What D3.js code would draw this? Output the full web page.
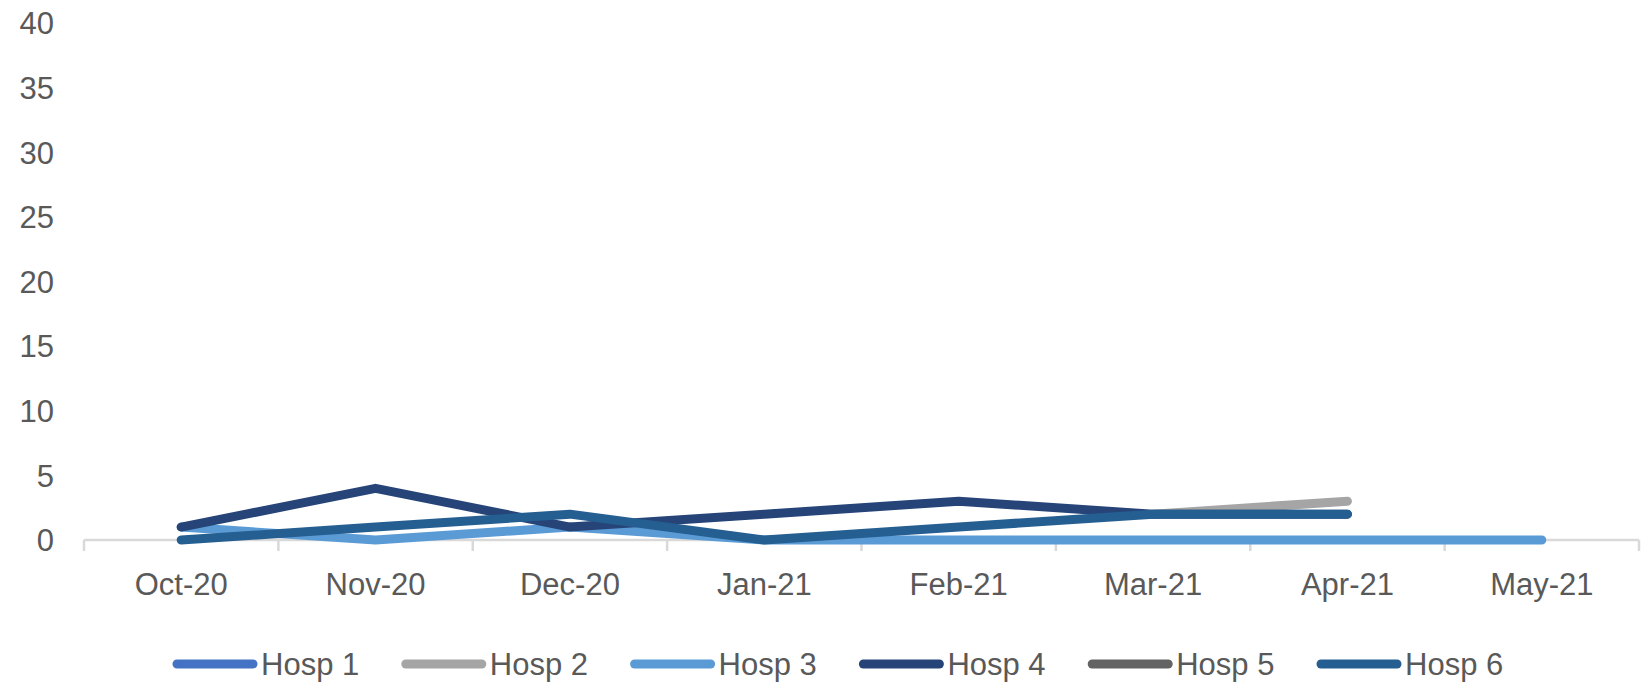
<!DOCTYPE html>
<html>
<head>
<meta charset="utf-8">
<script src="https://cdn.jsdelivr.net/npm/d3@7"></script>
<style>
  html, body { margin: 0; padding: 0; background: #fff; }
  svg { display: block; }
  text { font-family: "Liberation Sans", Arial, sans-serif; fill: #595959; }
</style>
</head>
<body>
<svg id="chart" width="1642" height="683"></svg>
<script>
// Monthly counts per hospital
const months = ["Oct-20", "Nov-20", "Dec-20", "Jan-21", "Feb-21", "Mar-21", "Apr-21", "May-21"];
const hosp1 = [null, null, null, null, null, null, null, null];
const hosp2 = [null, null, null, null, null, 2, 3, null];
const hosp3 = [1, 0, 1, 0, 0, 0, 0, 0];
const hosp4 = [1, 4, 1, 2, 3, 2, 2, null];
const hosp5 = [null, null, null, null, null, null, null, null];
const hosp6 = [0, 1, 2, 0, 1, 2, 2, null];
const yTicks = [0, 5, 10, 15, 20, 25, 30, 35, 40];

const seriesNames = ["Hosp 1", "Hosp 2", "Hosp 3", "Hosp 4", "Hosp 5", "Hosp 6"];
const seriesValues = [hosp1, hosp2, hosp3, hosp4, hosp5, hosp6];
const seriesColors = ["#4472C4", "#A5A5A5", "#5B9BD5", "#264478", "#636363", "#255E91"];

const svg = d3.select("#chart");
const plotLeft = 84, plotRight = 1639, plotTop = 23, plotBottom = 540;

const x = d3.scaleBand().domain(months).range([plotLeft, plotRight]).padding(0);
const y = d3.scaleLinear().domain([0, 40]).range([plotBottom, plotTop]);

// Y axis labels (no line, no gridlines)
const yAxis = d3.axisLeft(y).tickValues(yTicks).tickSize(0).tickPadding(0);
const gy = svg.append("g").attr("transform", "translate(54,0)").call(yAxis);
gy.select(".domain").remove();
gy.selectAll("text")
  .attr("font-size", 31)
  .attr("fill", "#595959")
  .attr("font-family", "Liberation Sans, Arial, sans-serif")
  .attr("dy", "0.35em");

// X axis baseline with tick marks at category boundaries
const axisG = svg.append("g");
axisG.append("line")
  .attr("x1", plotLeft).attr("x2", plotRight)
  .attr("y1", plotBottom).attr("y2", plotBottom)
  .attr("stroke", "#D9D9D9").attr("stroke-width", 2.5);
const edges = months.map(m => x(m)).concat([x(months[months.length - 1]) + x.bandwidth()]);
axisG.selectAll("line.tick").data(edges).join("line")
  .attr("class", "tick")
  .attr("x1", d => d).attr("x2", d => d)
  .attr("y1", plotBottom).attr("y2", plotBottom + 11)
  .attr("stroke", "#D9D9D9").attr("stroke-width", 2.5);
axisG.selectAll("text.cat").data(months).join("text")
  .attr("class", "cat")
  .attr("x", d => x(d) + x.bandwidth() / 2)
  .attr("y", 584)
  .attr("dy", "0.35em")
  .attr("text-anchor", "middle")
  .attr("font-size", 31)
  .text(d => d);

// Series lines
const line = d3.line()
  .defined(d => d.v !== null)
  .x(d => x(d.m) + x.bandwidth() / 2)
  .y(d => y(d.v));

seriesNames.forEach((name, i) => {
  const pts = months.map((m, j) => ({ m, v: seriesValues[i][j] }));
  svg.append("path")
    .datum(pts)
    .attr("fill", "none")
    .attr("stroke", seriesColors[i])
    .attr("stroke-width", 9)
    .attr("stroke-linecap", "round")
    .attr("stroke-linejoin", "round")
    .attr("d", line);
});

// Legend
const legendX0 = 173, legendStep = 228.8, legendY = 664;
const lg = svg.append("g");
seriesNames.forEach((name, i) => {
  const gx = legendX0 + i * legendStep;
  lg.append("line")
    .attr("x1", gx + 4).attr("x2", gx + 80)
    .attr("y1", legendY).attr("y2", legendY)
    .attr("stroke", seriesColors[i])
    .attr("stroke-width", 9)
    .attr("stroke-linecap", "round");
  lg.append("text")
    .attr("x", gx + 88)
    .attr("y", legendY)
    .attr("dy", "0.35em")
    .attr("font-size", 31)
    .text(name);
});
</script>
</body>
</html>
